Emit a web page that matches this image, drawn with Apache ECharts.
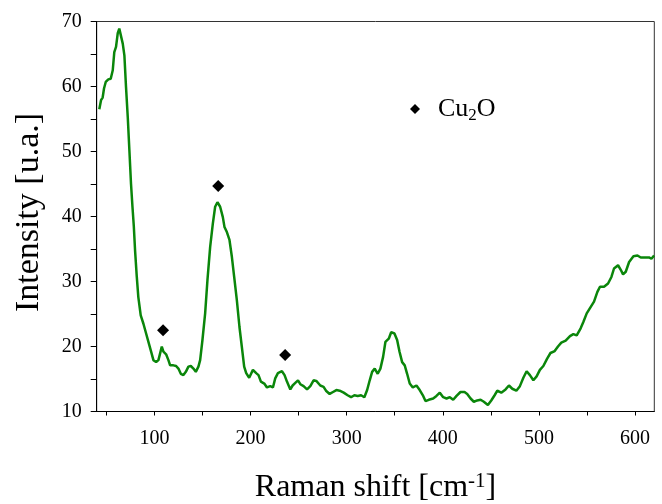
<!DOCTYPE html>
<html>
<head>
<meta charset="utf-8">
<script src="https://cdn.jsdelivr.net/npm/echarts@6/dist/echarts.min.js"></script>
<style>
html,body{margin:0;padding:0;background:#fff;}
#chart{width:662px;height:504px;}
</style>
</head>
<body>
<div id="chart"></div>
<script>
const ramanShift = [42.7,44.5,46.2,47.6,49.4,52.1,54.6,56.7,58.3,60.1,61.9,63.5,65.3,67.1,68.8,70.5,72.3,74,75.7,77.2,78.6,79.9,81.7,83.3,85.8,88.6,91.4,93.8,96.6,99,101.8,104.2,105.9,107.7,109.4,112.2,114.6,116.4,119.8,122.6,125,127.5,130.2,132.7,135.4,137.9,140.6,143.1,145.8,147.6,150,152.8,155.2,158,160.8,163.2,165.6,168.4,171.2,172.9,175.4,178.1,180.6,183,185.8,188.5,191,193.4,195.5,198.6,202.5,205.9,208.3,210.8,214.3,217.1,220.5,223.3,225.7,228.5,232.7,235.4,237.9,241.4,243.8,246.6,249.4,251.8,255.2,258.8,262.2,265.6,268.4,272.6,276,278.5,282.3,285.8,289.3,292.7,296.9,301,304.6,308,311.5,315,318.4,321.3,324,326.5,329.2,332.3,335.1,337.9,340.3,343.8,346.3,349.7,352.5,355,357.7,360.4,362.9,365.6,368.8,372.6,376,379.6,382,385.4,390,393.4,396.9,400.4,403.9,407.3,410.8,414.3,418.4,422.6,425.4,428.9,432.3,435.8,439.3,442.7,446.9,450.4,453.9,456.7,460.8,465.3,468.8,472.3,476.5,480.2,483.8,487.2,490.6,494.2,497.6,501,504.6,508.4,512,516.4,519.8,523.3,527.8,532.3,535.8,539.3,543.4,546.3,549.7,553.9,557.3,560.8,563.5,567.7,571.9,575.4,578.1,582.3,585.1,587.5,590.3,593.8,598.3,602.5,605.9,610.1,614.5,617,619.8];
const intensity = [56.5,57.9,58.3,59.7,60.7,61.1,61.2,62.5,65.3,66.1,68.2,68.9,68.7,66.6,64.8,59.9,55.3,50.2,45.0,41.5,38.5,34.8,30.7,27.6,24.8,23.5,22.0,20.7,19.2,17.9,17.6,17.9,18.9,20.0,19.2,18.8,17.9,17.1,17.1,17.0,16.6,15.8,15.6,16.1,16.9,17.0,16.6,16.1,16.9,17.9,21,25.1,30.2,35.3,38.9,41.5,42.2,41.5,39.9,38.4,37.6,36.4,33.8,30.7,27.1,23.0,19.9,16.9,15.9,15.2,16.4,15.9,15.6,14.6,14.3,13.7,13.9,13.7,15.1,15.9,16.2,15.6,14.6,13.4,14.0,14.4,14.8,14.2,13.9,13.4,13.9,14.8,14.7,14.0,13.8,13.2,12.7,13.0,13.3,13.2,12.9,12.5,12.2,12.5,12.4,12.5,12.2,13.3,14.8,16.1,16.6,15.8,16.6,18.4,20.7,21.2,22.2,22.0,21.0,19.2,17.6,17.1,15.8,14.3,13.7,14.0,13.3,12.4,11.6,11.8,12.0,12.4,12.9,12.2,12.0,12.2,11.8,12.4,13.0,13.0,12.7,12.0,11.5,11.7,11.8,11.5,11.0,11.7,12.5,13.2,12.9,13.4,14.0,13.5,13.2,13.9,15.2,16.2,15.6,14.8,15.4,16.4,17.0,18.1,19.0,19.3,20.0,20.6,20.9,21.6,21.9,21.7,22.8,23.8,25.1,26.1,26.9,28.4,29.2,29.2,29.7,30.7,32.0,32.5,31.8,31.1,31.5,33.0,33.9,34.0,33.7,33.7,33.7,33.5,34.0];
const markerShift = [109, 166.4, 236];
const markerIntensity = [22.5, 44.7, 18.7];
const xMajorTicks = [100, 200, 300, 400, 500, 600];
const xAllTicks = [50, 100, 150, 200, 250, 300, 350, 400, 450, 500, 550, 600];
const yMajorTicks = [10, 20, 30, 40, 50, 60, 70];
const yAllTicks = [10, 15, 20, 25, 30, 35, 40, 45, 50, 55, 60, 65, 70];

const FONT = 'Liberation Serif';
const chart = echarts.init(document.getElementById('chart'), null, {renderer: 'canvas'});
const curve = ramanShift.map((x, i) => [x, intensity[i]]);
const markers = markerShift.map((x, i) => [x, markerIntensity[i]]);

chart.setOption({
  animation: false,
  backgroundColor: '#fff',
  grid: {left: 96.7, right: 7.7, top: 21.5, bottom: 92.5, outerBoundsMode: 'none', containLabel: false,
         show: true, borderColor: '#333', borderWidth: 1, backgroundColor: 'transparent'},
  legend: {
    data: [{name: 'Cu2O', icon: 'diamond'}],
    left: 405, top: 91,
    itemWidth: 10, itemHeight: 10,
    formatter: () => '{a|Cu}{s|2}{a|O}',
    textStyle: {
      padding: [0, 0, 0, 13],
      rich: {
        a: {fontFamily: FONT, fontSize: 26, color: '#000'},
        s: {fontFamily: FONT, fontSize: 17, color: '#000', padding: [14, 0, 0, 0]}
      }
    }
  },
  xAxis: {
    type: 'value', min: 40, max: 620,
    name: '{a|Raman shift [cm}{s|-1}{a|]}',
    nameLocation: 'middle', nameGap: 59,
    nameTextStyle: {
      rich: {
        a: {fontFamily: FONT, fontSize: 32, color: '#000'},
        s: {fontFamily: FONT, fontSize: 21, color: '#000', padding: [0, 0, 14, 0]}
      }
    },
    axisLine: {show: true, lineStyle: {color: '#000', width: 1}},
    axisTick: {show: true, inside: false, length: 4, customValues: xAllTicks, lineStyle: {color: '#000'}},
    axisLabel: {customValues: xMajorTicks, fontFamily: FONT, fontSize: 20, color: '#000', margin: 17},
    splitLine: {show: false}
  },
  yAxis: {
    type: 'value', min: 10, max: 70,
    name: 'Intensity [u.a.]',
    nameLocation: 'middle', nameGap: 51,
    nameTextStyle: {fontFamily: FONT, fontSize: 34, color: '#000', padding: [0, 0, 0, 8]},
    axisLine: {show: true, lineStyle: {color: '#000', width: 1}},
    axisTick: {show: true, inside: false, length: 6, customValues: yAllTicks, lineStyle: {color: '#000'}},
    axisLabel: {customValues: yMajorTicks, fontFamily: FONT, fontSize: 20, color: '#000', margin: 15},
    splitLine: {show: false}
  },
  series: [
    {
      name: 'spectrum', type: 'line', data: curve,
      showSymbol: false, symbol: 'none',
      lineStyle: {color: '#0a860a', width: 2.5},
      z: 2
    },
    {
      name: 'Cu2O', type: 'scatter', data: markers,
      symbol: 'diamond', symbolSize: 12,
      itemStyle: {color: '#000', opacity: 1},
      z: 3
    }
  ]
});
</script>
</body>
</html>
